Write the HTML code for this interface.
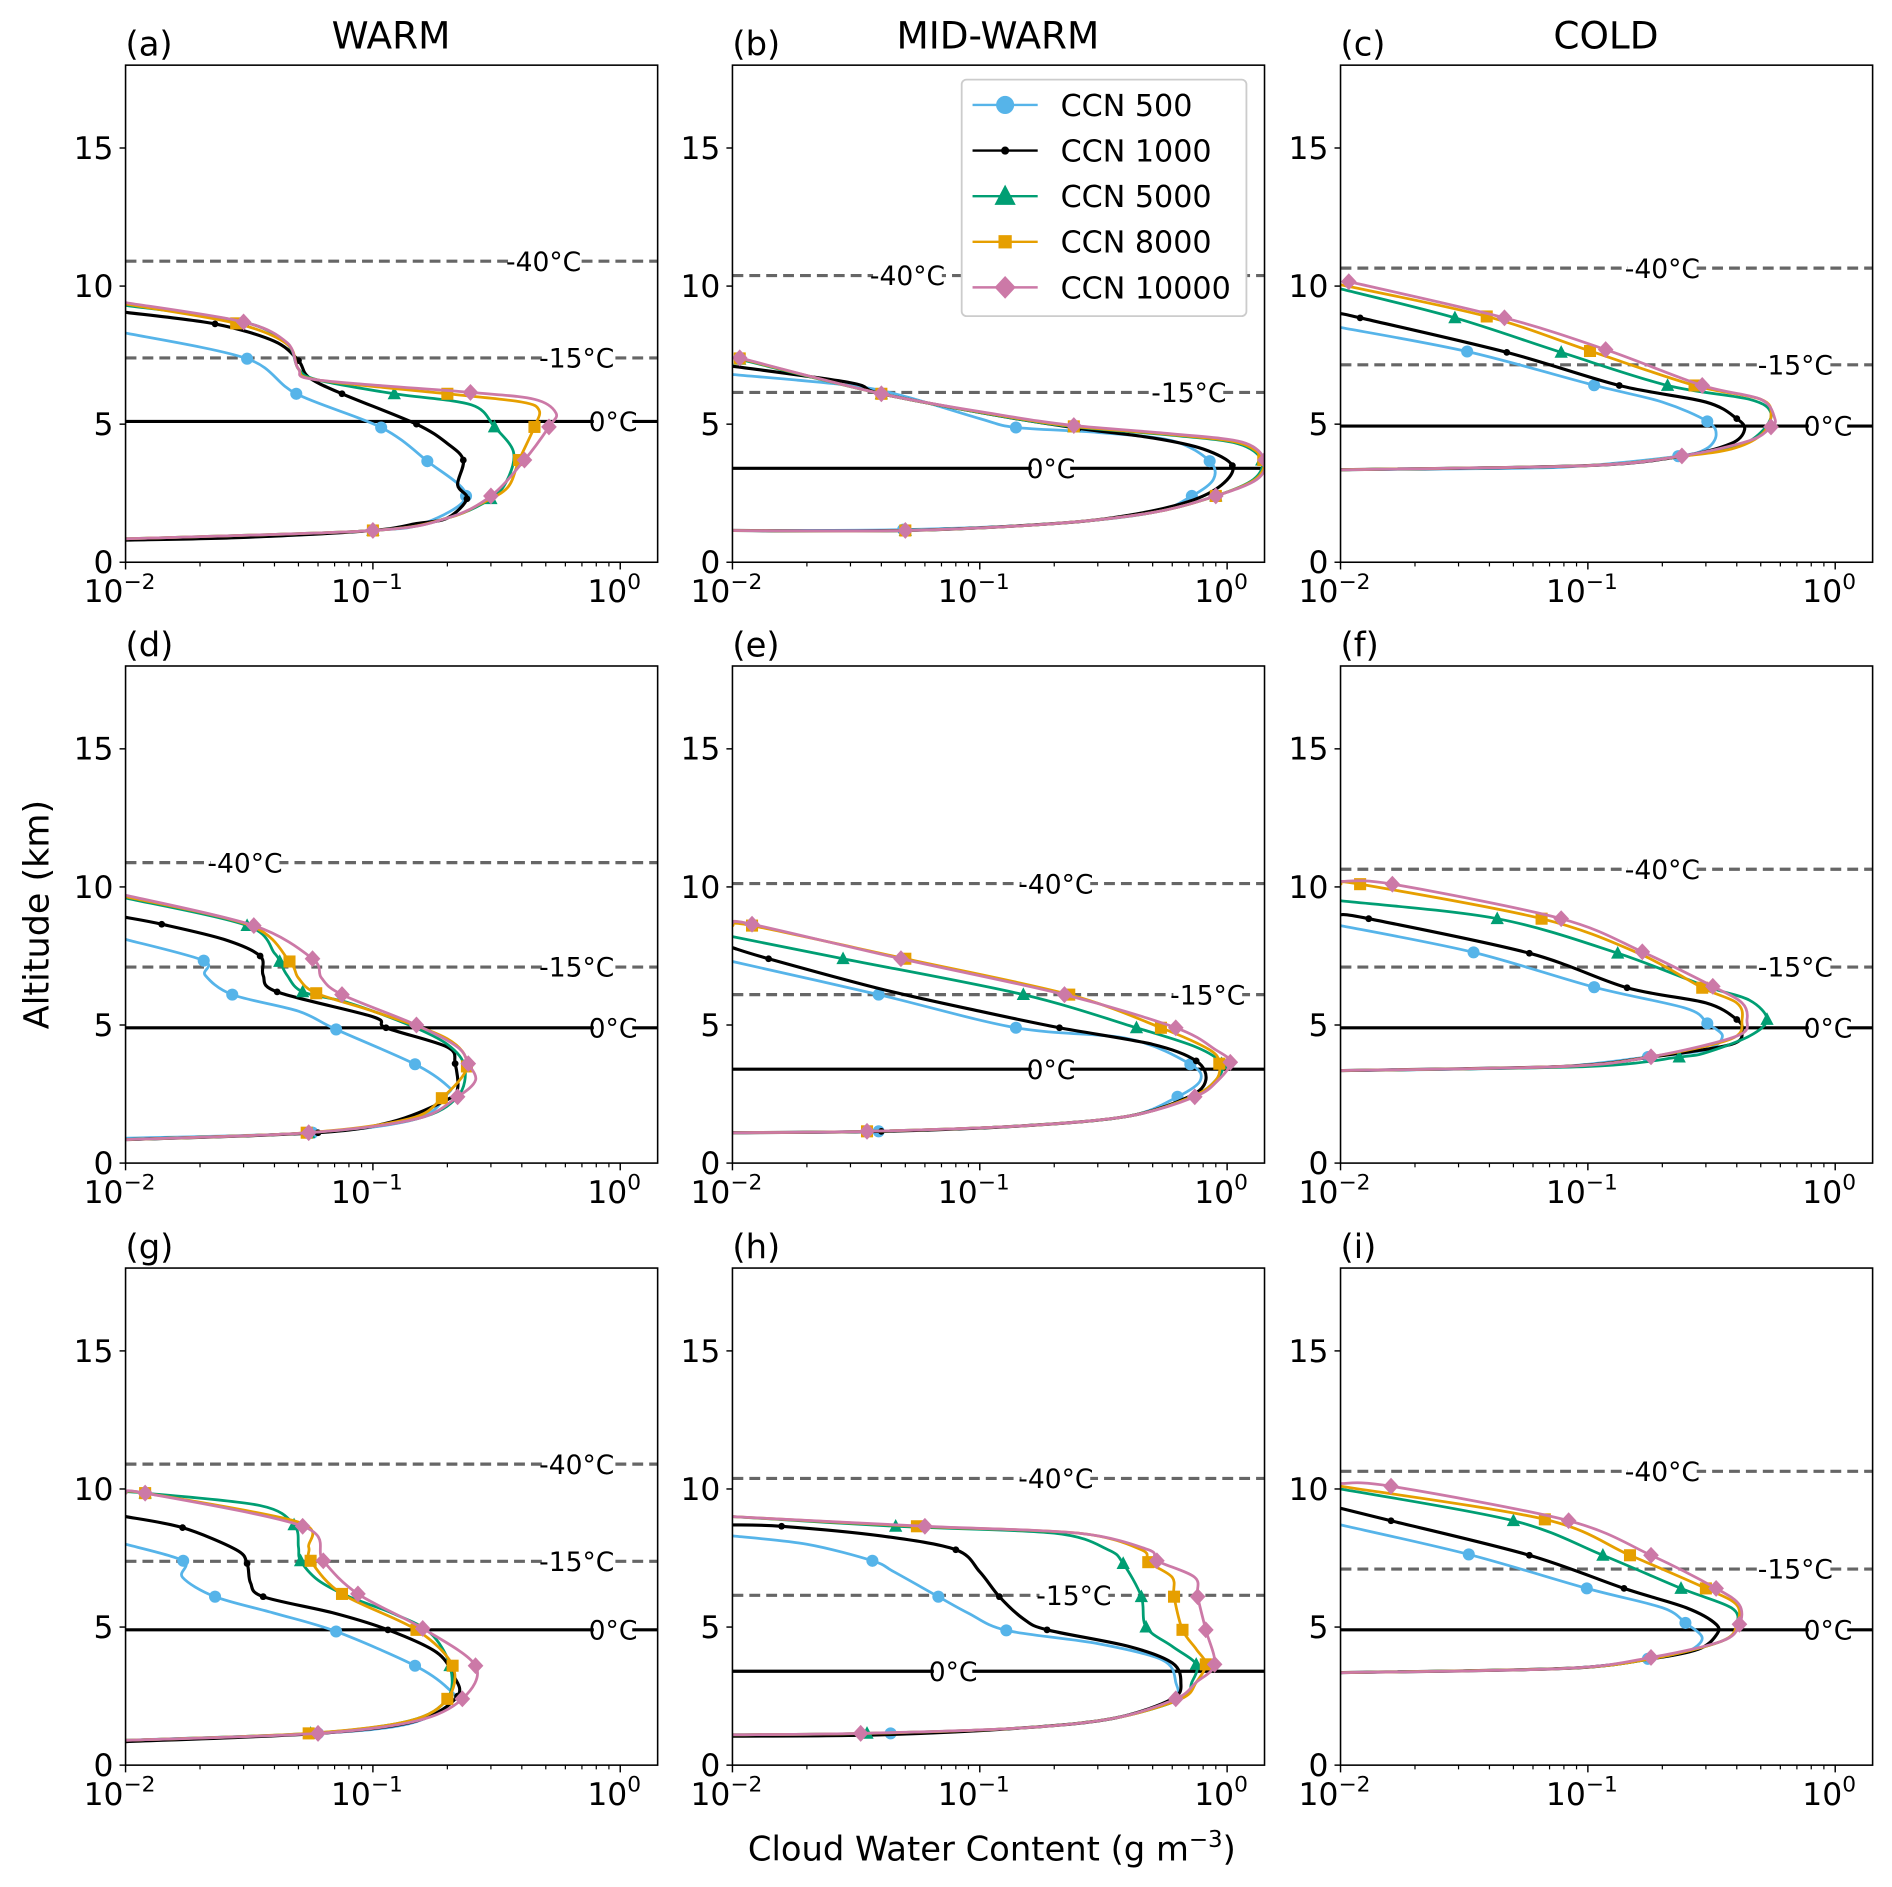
<!DOCTYPE html>
<html><head><meta charset="utf-8"><style>
html,body{margin:0;padding:0;background:#fff;}
svg{display:block;font-family:"DejaVu Sans","Liberation Sans",sans-serif;}
</style></head><body>
<svg id="fig" xmlns="http://www.w3.org/2000/svg" width="1892" height="1887" viewBox="0 0 1568 1564"></svg>
<script>
// ---- data ----
const seriesNames = ["CCN 500","CCN 1000","CCN 5000","CCN 8000","CCN 10000"];
const panelLabels = ["(a)","(b)","(c)","(d)","(e)","(f)","(g)","(h)","(i)"];
const columnTitles = ["WARM","MID-WARM","COLD"];
const yTicks = [0,5,10,15];
const xTickExps = [-2,-1,0];
// isotherm altitudes per panel: [-40, -15, 0]
const isoAlt = [[10.9,7.4,5.1],[10.38,6.15,3.4],[10.65,7.15,4.93],[10.88,7.1,4.9],[10.12,6.1,3.4],[10.64,7.1,4.9],[10.9,7.38,4.9],[10.38,6.15,3.4],[10.64,7.1,4.9]];
// isotherm label x-values (g m-3) per panel: [-40, -15, 0]
const isoLabelX = [[0.49,0.667,0.935],[0.051,0.70,0.194],[0.2,0.69,0.935],[0.0304,0.667,0.935],[0.203,0.835,0.194],[0.2,0.69,0.935],[0.667,0.667,0.935],[0.203,0.24,0.078],[0.2,0.69,0.935]];
// each point: [CWC (g m-3), altitude (km), marker flag]
const pA = [
 [[0.01,8.3,0],[0.031,7.37,1],[0.049,6.1,1],[0.108,4.88,1],[0.166,3.66,1],[0.238,2.4,1],[0.16,1.4,0],[0.1,1.15,1],[0.03,0.9,0],[0.01,0.85,0]],
 [[0.01,9.05,0],[0.023,8.63,1],[0.04,8.0,0],[0.05,7.3,1],[0.055,6.7,0],[0.075,6.1,1],[0.15,5.0,1],[0.2,4.3,0],[0.232,3.7,1],[0.22,2.8,0],[0.24,2.3,1],[0.2,1.6,0],[0.15,1.4,0],[0.1,1.15,1],[0.03,0.9,0],[0.01,0.8,0]],
 [[0.01,9.3,0],[0.03,8.7,1],[0.045,7.9,0],[0.05,7.0,0],[0.06,6.6,0],[0.122,6.1,1],[0.25,5.7,0],[0.31,4.9,1],[0.37,4.0,0],[0.35,3.0,0],[0.3,2.3,1],[0.2,1.6,0],[0.1,1.15,1],[0.01,0.85,0]],
 [[0.01,9.35,0],[0.028,8.65,1],[0.045,7.9,0],[0.05,7.0,0],[0.06,6.6,0],[0.2,6.1,1],[0.4,5.8,0],[0.47,5.5,0],[0.45,4.9,1],[0.39,3.7,1],[0.35,2.7,0],[0.27,2.1,0],[0.2,1.6,0],[0.1,1.15,1],[0.01,0.85,0]],
 [[0.01,9.4,0],[0.03,8.7,1],[0.045,7.95,0],[0.05,7.0,0],[0.06,6.6,0],[0.248,6.15,1],[0.45,5.9,0],[0.55,5.4,0],[0.515,4.9,1],[0.41,3.7,1],[0.3,2.4,1],[0.2,1.6,0],[0.1,1.15,1],[0.01,0.85,0]]
];
const pB = [
 [[0.01,6.8,0],[0.03,6.4,0],[0.05,6.0,0],[0.1,5.2,0],[0.14,4.88,1],[0.3,4.7,0],[0.6,4.4,0],[0.85,3.66,1],[0.88,3.0,0],[0.72,2.4,1],[0.5,1.8,0],[0.2,1.4,0],[0.049,1.18,1],[0.01,1.15,0]],
 [[0.01,7.1,0],[0.03,6.5,0],[0.04,6.1,1],[0.12,5.3,0],[0.25,4.85,1],[0.5,4.5,0],[0.8,4.1,0],[1.05,3.5,1],[0.95,2.8,0],[0.7,2.2,0],[0.4,1.7,0],[0.2,1.4,0],[0.05,1.15,1],[0.01,1.15,0]],
 [[0.0107,7.35,1],[0.04,6.1,1],[0.12,5.3,0],[0.24,4.9,1],[0.6,4.6,0],[1.1,4.3,0],[1.38,3.7,1],[1.28,3.0,0],[0.9,2.4,1],[0.5,1.8,0],[0.2,1.4,0],[0.05,1.15,1],[0.01,1.15,0]],
 [[0.0107,7.38,1],[0.04,6.1,1],[0.12,5.32,0],[0.24,4.92,1],[0.6,4.62,0],[1.12,4.32,0],[1.4,3.7,1],[1.3,3.0,0],[0.9,2.4,1],[0.5,1.8,0],[0.2,1.4,0],[0.05,1.15,1],[0.01,1.15,0]],
 [[0.0107,7.4,1],[0.04,6.1,1],[0.12,5.34,0],[0.24,4.95,1],[0.6,4.65,0],[1.15,4.35,0],[1.42,3.7,1],[1.32,3.0,0],[0.9,2.4,1],[0.5,1.8,0],[0.2,1.4,0],[0.05,1.15,1],[0.01,1.15,0]]
];
const pC = [
 [[0.01,8.5,0],[0.0325,7.63,1],[0.106,6.41,1],[0.2,5.8,0],[0.304,5.1,1],[0.33,4.6,0],[0.3,4.1,0],[0.232,3.84,1],[0.1,3.5,0],[0.05,3.4,0],[0.01,3.35,0]],
 [[0.01,9.0,0],[0.012,8.85,1],[0.047,7.6,1],[0.134,6.4,1],[0.3,5.8,0],[0.4,5.2,1],[0.43,4.8,0],[0.38,4.3,0],[0.24,3.84,0],[0.1,3.5,0],[0.01,3.35,0]],
 [[0.01,9.9,0],[0.029,8.85,1],[0.078,7.6,1],[0.21,6.4,1],[0.45,5.9,0],[0.55,5.4,0],[0.5,4.7,0],[0.4,4.2,0],[0.24,3.84,0],[0.1,3.5,0],[0.01,3.35,0]],
 [[0.01,10.05,0],[0.039,8.9,1],[0.102,7.65,1],[0.27,6.4,1],[0.5,5.9,0],[0.55,5.3,0],[0.5,4.6,0],[0.38,4.1,0],[0.24,3.84,0],[0.1,3.5,0],[0.01,3.35,0]],
 [[0.0108,10.16,1],[0.046,8.85,1],[0.118,7.7,1],[0.29,6.4,1],[0.5,5.9,0],[0.57,5.2,0],[0.55,4.9,1],[0.45,4.4,0],[0.24,3.85,1],[0.1,3.5,0],[0.01,3.35,0]]
];
const pD = [
 [[0.01,8.1,0],[0.0207,7.33,1],[0.021,6.8,0],[0.027,6.1,1],[0.05,5.5,0],[0.071,4.84,1],[0.148,3.58,1],[0.2,2.8,0],[0.2,2.5,0],[0.15,1.6,0],[0.057,1.1,1],[0.01,0.9,0]],
 [[0.01,8.9,0],[0.014,8.65,1],[0.025,8.1,0],[0.035,7.5,1],[0.036,6.8,0],[0.041,6.2,1],[0.1,5.3,0],[0.113,4.9,1],[0.2,4.2,0],[0.215,3.6,1],[0.22,2.7,0],[0.2,2.3,0],[0.12,1.5,0],[0.06,1.1,1],[0.01,0.85,0]],
 [[0.01,9.6,0],[0.031,8.6,1],[0.04,7.6,0],[0.042,7.3,1],[0.045,6.8,0],[0.052,6.2,1],[0.08,5.8,0],[0.14,5.0,0],[0.2,4.3,0],[0.235,3.5,0],[0.22,2.4,0],[0.15,1.6,0],[0.055,1.1,1],[0.01,0.85,0]],
 [[0.01,9.65,0],[0.032,8.6,0],[0.046,7.3,1],[0.05,6.7,0],[0.059,6.15,1],[0.1,5.5,0],[0.2,4.5,0],[0.24,3.5,1],[0.19,2.35,1],[0.14,1.6,0],[0.054,1.1,1],[0.01,0.85,0]],
 [[0.01,9.7,0],[0.033,8.6,1],[0.057,7.4,1],[0.062,6.7,0],[0.075,6.1,1],[0.15,5.0,1],[0.22,4.2,0],[0.243,3.6,1],[0.26,3.0,0],[0.22,2.4,1],[0.15,1.6,0],[0.055,1.1,1],[0.01,0.85,0]]
];
const pE = [
 [[0.01,7.3,0],[0.039,6.1,1],[0.14,4.9,1],[0.4,4.5,0],[0.71,3.58,1],[0.78,3.0,0],[0.63,2.4,1],[0.4,1.7,0],[0.15,1.35,0],[0.039,1.15,1],[0.01,1.1,0]],
 [[0.01,7.8,0],[0.014,7.4,1],[0.04,6.3,0],[0.1,5.5,0],[0.21,4.9,1],[0.5,4.3,0],[0.75,3.7,1],[0.82,3.0,0],[0.7,2.4,0],[0.4,1.7,0],[0.15,1.35,0],[0.04,1.15,1],[0.01,1.1,0]],
 [[0.01,8.2,0],[0.028,7.4,1],[0.15,6.1,1],[0.43,4.9,1],[0.75,4.2,0],[0.95,3.6,1],[0.9,3.0,0],[0.72,2.4,0],[0.4,1.7,0],[0.15,1.35,0],[0.035,1.15,0],[0.01,1.1,0]],
 [[0.01,8.6,0],[0.012,8.6,1],[0.05,7.4,1],[0.23,6.1,1],[0.54,4.9,1],[0.85,4.1,0],[0.93,3.6,1],[0.9,3.0,0],[0.72,2.4,0],[0.4,1.7,0],[0.15,1.35,0],[0.035,1.15,1],[0.01,1.1,0]],
 [[0.01,8.7,0],[0.012,8.65,1],[0.048,7.4,1],[0.22,6.1,1],[0.62,4.9,1],[0.9,4.1,0],[1.03,3.65,1],[0.92,3.0,0],[0.74,2.4,1],[0.4,1.7,0],[0.15,1.35,0],[0.035,1.15,1],[0.01,1.1,0]]
];
const pF = [
 [[0.01,8.6,0],[0.0345,7.63,1],[0.106,6.37,1],[0.25,5.6,0],[0.304,5.06,1],[0.35,4.6,0],[0.3,4.1,0],[0.175,3.84,1],[0.08,3.5,0],[0.03,3.4,0],[0.01,3.35,0]],
 [[0.01,9.0,0],[0.013,8.85,1],[0.058,7.6,1],[0.144,6.35,1],[0.3,5.8,0],[0.4,5.2,1],[0.42,4.8,0],[0.38,4.3,0],[0.18,3.84,0],[0.08,3.5,0],[0.01,3.35,0]],
 [[0.01,9.5,0],[0.043,8.85,1],[0.132,7.6,1],[0.3,6.4,0],[0.45,5.9,0],[0.53,5.2,1],[0.45,4.6,0],[0.3,4.0,0],[0.234,3.84,1],[0.1,3.5,0],[0.01,3.35,0]],
 [[0.01,10.1,0],[0.012,10.1,1],[0.065,8.85,1],[0.16,7.6,0],[0.29,6.35,1],[0.4,5.8,0],[0.42,5.2,0],[0.38,4.5,0],[0.18,3.85,0],[0.08,3.5,0],[0.01,3.35,0]],
 [[0.01,10.2,0],[0.0162,10.1,1],[0.078,8.85,1],[0.166,7.65,1],[0.32,6.4,1],[0.42,5.8,0],[0.44,5.2,0],[0.4,4.6,0],[0.18,3.85,1],[0.08,3.5,0],[0.01,3.35,0]]
];
const pG = [
 [[0.01,8.0,0],[0.0171,7.4,1],[0.017,6.8,0],[0.023,6.1,1],[0.04,5.5,0],[0.071,4.84,1],[0.148,3.6,1],[0.2,2.8,0],[0.21,2.3,0],[0.14,1.5,0],[0.06,1.15,1],[0.01,0.9,0]],
 [[0.01,9.0,0],[0.017,8.6,1],[0.028,7.8,0],[0.031,7.3,1],[0.032,6.6,0],[0.036,6.1,1],[0.07,5.5,0],[0.115,4.9,1],[0.18,4.1,0],[0.21,3.3,0],[0.22,2.5,1],[0.15,1.6,0],[0.06,1.15,0],[0.01,0.85,0]],
 [[0.01,9.9,0],[0.012,9.85,1],[0.035,9.4,0],[0.048,8.7,1],[0.05,7.9,0],[0.051,7.4,1],[0.06,6.7,0],[0.08,6.1,0],[0.12,5.5,0],[0.17,4.8,0],[0.205,3.6,1],[0.2,2.4,0],[0.14,1.6,0],[0.056,1.15,1],[0.01,0.9,0]],
 [[0.01,9.85,0],[0.012,9.85,1],[0.05,8.8,0],[0.055,7.9,0],[0.056,7.4,1],[0.075,6.2,1],[0.15,4.9,1],[0.21,3.6,1],[0.2,2.4,1],[0.14,1.6,0],[0.055,1.15,1],[0.01,0.9,0]],
 [[0.01,9.85,0],[0.012,9.85,1],[0.052,8.65,1],[0.063,7.4,1],[0.087,6.2,1],[0.159,4.95,1],[0.26,3.6,1],[0.23,2.4,1],[0.15,1.6,0],[0.06,1.15,1],[0.01,0.9,0]]
];
const pH = [
 [[0.01,8.3,0],[0.02,8.0,0],[0.0368,7.4,1],[0.045,7.0,0],[0.068,6.1,1],[0.09,5.5,0],[0.128,4.88,1],[0.3,4.4,0],[0.55,3.8,0],[0.62,3.0,0],[0.6,2.4,0],[0.35,1.7,0],[0.15,1.35,0],[0.0436,1.15,1],[0.01,1.1,0]],
 [[0.01,8.7,0],[0.0158,8.65,1],[0.04,8.3,0],[0.08,7.8,1],[0.1,7.0,0],[0.12,6.1,1],[0.15,5.3,0],[0.187,4.9,1],[0.4,4.3,0],[0.6,3.7,0],[0.65,3.0,0],[0.6,2.4,0],[0.35,1.7,0],[0.15,1.35,0],[0.04,1.1,0],[0.01,1.05,0]],
 [[0.01,9.0,0],[0.0457,8.65,1],[0.2,8.4,0],[0.33,7.8,0],[0.38,7.3,1],[0.45,6.1,1],[0.47,5.0,1],[0.6,4.3,0],[0.75,3.65,1],[0.72,3.0,0],[0.65,2.4,0],[0.35,1.7,0],[0.15,1.35,0],[0.035,1.15,1],[0.01,1.1,0]],
 [[0.01,9.0,0],[0.0557,8.65,1],[0.25,8.4,0],[0.45,7.8,0],[0.48,7.35,1],[0.6,6.8,0],[0.61,6.1,1],[0.66,4.9,1],[0.75,4.2,0],[0.82,3.65,1],[0.75,3.0,0],[0.65,2.4,0],[0.35,1.7,0],[0.15,1.35,0],[0.035,1.15,0],[0.01,1.1,0]],
 [[0.01,9.0,0],[0.06,8.65,1],[0.25,8.4,0],[0.48,7.8,0],[0.52,7.4,1],[0.74,6.8,0],[0.76,6.1,1],[0.82,4.9,1],[0.89,3.65,1],[0.75,3.0,0],[0.62,2.4,1],[0.35,1.7,0],[0.15,1.35,0],[0.033,1.15,1],[0.01,1.1,0]]
];
const pI = [
 [[0.01,8.7,0],[0.033,7.63,1],[0.099,6.4,1],[0.2,5.7,0],[0.248,5.15,1],[0.29,4.6,0],[0.25,4.1,0],[0.175,3.85,1],[0.08,3.5,0],[0.01,3.35,0]],
 [[0.01,9.3,0],[0.016,8.85,1],[0.058,7.6,1],[0.14,6.4,1],[0.25,5.7,0],[0.33,5.1,0],[0.33,4.7,0],[0.28,4.2,0],[0.18,3.85,0],[0.08,3.5,0],[0.01,3.35,0]],
 [[0.01,10.0,0],[0.05,8.85,1],[0.115,7.6,1],[0.238,6.4,1],[0.38,5.7,0],[0.4,5.1,0],[0.35,4.5,0],[0.18,3.85,0],[0.08,3.5,0],[0.01,3.35,0]],
 [[0.01,10.1,0],[0.067,8.9,1],[0.148,7.6,1],[0.3,6.4,1],[0.4,5.8,0],[0.4,5.1,0],[0.35,4.5,0],[0.18,3.85,0],[0.08,3.5,0],[0.01,3.35,0]],
 [[0.01,10.2,0],[0.016,10.1,1],[0.0836,8.85,1],[0.18,7.6,1],[0.33,6.4,1],[0.41,5.8,0],[0.41,5.1,1],[0.35,4.5,0],[0.18,3.9,1],[0.08,3.5,0],[0.01,3.35,0]]
];
const panelData = [pA,pB,pC,pD,pE,pF,pG,pH,pI];

// ---- layout ----
const colors = ["#56B4E9","#000000","#009E73","#E69F00","#CC79A7"];
const markers = ["circle","dot","triangle","square","diamond"];
const colX = [104,607,1111], rowY = [54,552,1051], W = 441, H = 412;
const DEC = 205, YMAX = 18;
const NS = "http://www.w3.org/2000/svg";
const svg = document.getElementById("fig");
function el(tag, attrs, parent){ const e=document.createElementNS(NS,tag); for(const k in attrs) e.setAttribute(k,attrs[k]); (parent||svg).appendChild(e); return e; }
function xs(v, x0){ return x0 + (Math.log10(v)+2)*DEC; }
function ys(a, y0){ return y0 + H - a*(H/YMAX); }
function smoothPath(pts){
  if(pts.length<2) return "";
  let d="M"+pts[0][0].toFixed(2)+","+pts[0][1].toFixed(2);
  for(let i=0;i<pts.length-1;i++){
    const p0=pts[Math.max(0,i-1)],p1=pts[i],p2=pts[i+1],p3=pts[Math.min(pts.length-1,i+2)];
    const t=0.16;
    const c1=[p1[0]+(p2[0]-p0[0])*t,p1[1]+(p2[1]-p0[1])*t];
    const c2=[p2[0]-(p3[0]-p1[0])*t,p2[1]-(p3[1]-p1[1])*t];
    d+=" C"+c1[0].toFixed(2)+","+c1[1].toFixed(2)+" "+c2[0].toFixed(2)+","+c2[1].toFixed(2)+" "+p2[0].toFixed(2)+","+p2[1].toFixed(2);
  }
  return d;
}
function drawMarker(type, x, y, c, g){
  let m;
  if(type==="circle") m=el("circle",{cx:x,cy:y,r:5,fill:c},g);
  else if(type==="dot") m=el("circle",{cx:x,cy:y,r:2.8,fill:c},g);
  else if(type==="triangle") m=el("polygon",{points:`${x},${y-6} ${x-5.5},${y+4.5} ${x+5.5},${y+4.5}`,fill:c},g);
  else if(type==="square") m=el("rect",{x:x-5,y:y-5,width:10,height:10,fill:c},g);
  else m=el("polygon",{points:`${x},${y-7} ${x+6.5},${y} ${x},${y+7} ${x-6.5},${y}`,fill:c},g);
  
  
}
const isoNames = ["-40°C","-15°C","0°C"];
const defs = el("defs",{});
for(let p=0;p<9;p++){
  const x0=colX[p%3], y0=rowY[Math.floor(p/3)];
  const g=el("g",{});
  
  
  const cp=el("clipPath",{id:"cp"+p},defs);
  el("rect",{x:x0,y:y0,width:W,height:H},cp);
  for(let k=0;k<3;k++){
    const yy=ys(isoAlt[p][k],y0);
    const ln=el("line",{x1:x0,x2:x0+W,y1:yy,y2:yy,stroke:k<2?"#666":"#000","stroke-width":2.6,"stroke-dasharray":k<2?"9,5":"none"},g);
    
    
    const lx=xs(isoLabelX[p][k],x0);
    const tw = isoNames[k].length*12.6;
    el("rect",{x:lx-tw/2+3,y:yy-9,width:tw-6,height:18,fill:"#fff"},g);
    const t=el("text",{x:lx,y:yy+8,"text-anchor":"middle","font-size":22,fill:"#000"},g);
    t.textContent=isoNames[k];
    
    
  }
  const sg=el("g",{"clip-path":`url(#cp${p})`},g);
  panelData[p].forEach((ser,s)=>{
    const pts=ser.map(q=>[xs(q[0],x0),ys(q[1],y0)]);
    const path=el("path",{d:smoothPath(pts),fill:"none",stroke:colors[s],"stroke-width":s===1?2.6:2.3,"stroke-linejoin":"round"},sg);
    
    
    ser.forEach((q,i)=>{ if(q[2]) drawMarker(markers[s],pts[i][0],pts[i][1],colors[s],sg); });
  });
  const fr=el("rect",{x:x0,y:y0,width:W,height:H,fill:"none",stroke:"#000","stroke-width":1.3},g);
  
  
  yTicks.forEach(v=>{
    const yy=ys(v,y0);
    el("line",{x1:x0-5,x2:x0,y1:yy,y2:yy,stroke:"#000","stroke-width":1.2},g);
    const t=el("text",{x:x0-10,y:yy+9,"text-anchor":"end","font-size":26},g);
    t.textContent=v;
    
    
  });
  const yb=y0+H;
  xTickExps.forEach(e=>{
    const xx=xs(Math.pow(10,e),x0);
    el("line",{x1:xx,x2:xx,y1:yb,y2:yb+6,stroke:"#000","stroke-width":1.2},g);
    const t=el("text",{x:xx-5,y:yb+33,"text-anchor":"middle","font-size":26},g);
    t.textContent="10";
    
    
    const sup=el("tspan",{dy:-11,"font-size":18},t);
    sup.textContent=e===0?"0":"\u2212"+(-e);
  });
  for(let e=-2;e<=0;e++) for(let m=2;m<=9;m++){
    const v=m*Math.pow(10,e); const xx=xs(v,x0);
    if(xx>x0+W) continue;
    el("line",{x1:xx,x2:xx,y1:yb,y2:yb+3.5,stroke:"#000","stroke-width":1},g);
  }
  const pl=el("text",{x:x0,y:y0-8,"font-size":28},g);
  pl.textContent=panelLabels[p];
  
  
}
columnTitles.forEach((tt,i)=>{
  const t=el("text",{x:colX[i]+220,y:40,"text-anchor":"middle","font-size":31});
  t.textContent=tt;
  
  
});
const yl=el("text",{x:40,y:758,"text-anchor":"middle","font-size":29,transform:"rotate(-90 40 758)"});
yl.textContent="Altitude (km)";


const xl=el("text",{x:822,y:1542,"text-anchor":"middle","font-size":28});
xl.textContent="Cloud Water Content (g m";


const s1=el("tspan",{dy:-11,"font-size":19},xl); s1.textContent="\u22123";
const s2=el("tspan",{dy:11},xl); s2.textContent=")";
const lg=el("g",{});


el("rect",{x:797,y:66,width:236,height:196,rx:4,fill:"#fff",stroke:"#ccc","stroke-width":1.5},lg);
seriesNames.forEach((n,s)=>{
  const yy=87+s*37.8;
  const e=el("g",{},lg);
  
  
  el("line",{x1:806,x2:860,y1:yy,y2:yy,stroke:colors[s],"stroke-width":2},e);
  const big = {circle:1.5,dot:1.2,triangle:1.6,square:1.1,diamond:1.35}[markers[s]];
  const mg=el("g",{transform:`translate(833 ${yy}) scale(${big}) translate(-833 ${-yy})`},e);
  drawMarker(markers[s],833,yy,colors[s],mg);
  const t=el("text",{x:879,y:yy+9,"font-size":25},e);
  t.textContent=n;
});
</script>
</body></html>
